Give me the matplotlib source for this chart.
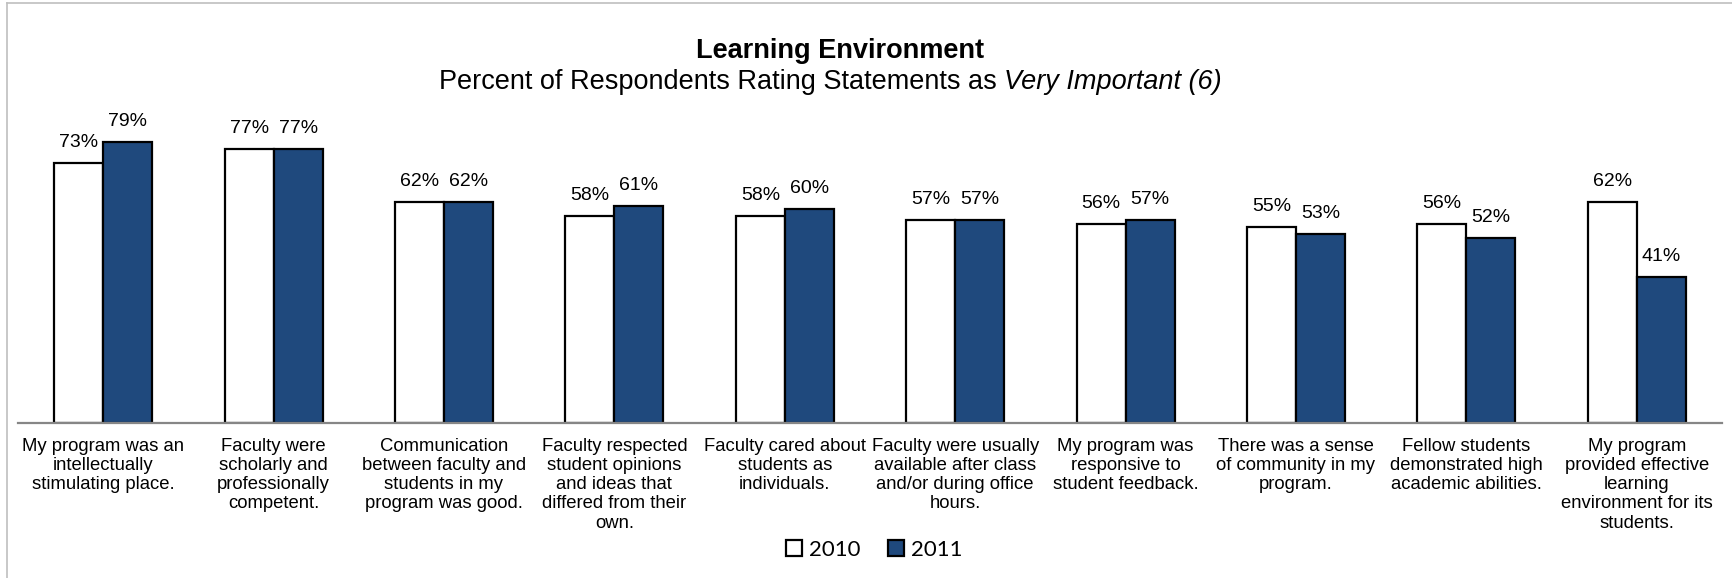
import matplotlib
matplotlib.use("Agg")
import matplotlib.pyplot as plt
from matplotlib.patches import Patch
from matplotlib.lines import Line2D
import numpy as np

# ---- data ----
categories = [
    "My program was an\nintellectually\nstimulating place.",
    "Faculty were\nscholarly and\nprofessionally\ncompetent.",
    "Communication\nbetween faculty and\nstudents in my\nprogram was good.",
    "Faculty respected\nstudent opinions\nand ideas that\ndiffered from their\nown.",
    "Faculty cared about\nstudents as\nindividuals.",
    "Faculty were usually\navailable after class\nand/or during office\nhours.",
    "My program was\nresponsive to\nstudent feedback.",
    "There was a sense\nof community in my\nprogram.",
    "Fellow students\ndemonstrated high\nacademic abilities.",
    "My program\nprovided effective\nlearning\nenvironment for its\nstudents.",
]
pct_2010 = [73, 77, 62, 58, 58, 57, 56, 55, 56, 62]
pct_2011 = [79, 77, 62, 61, 60, 57, 57, 53, 52, 41]
series_names = ["2010", "2011"]

title = "Learning Environment"
subtitle_plain = "Percent of Respondents Rating Statements as "
subtitle_italic = "Very Important (6)"

# ---- styling ----
W, H, DPI = 1732, 578, 100
BLUE = "#1F497D"
AXIS_GRAY = "#868686"
FONT = "Liberation Sans"
TITLE_SIZE = 19.5
TITLE_X = 840
SUBTITLE_X = 830

fig = plt.figure(figsize=(W / DPI, H / DPI), dpi=DPI)
fig.patch.set_facecolor("white")

ax = fig.add_axes([18 / W, 1 - 422.7 / H, 1704 / W, (422.7 - 67) / H])

x = np.arange(len(categories))
bw = 0.2875
b1 = ax.bar(x - bw / 2, pct_2010, bw, color="white", edgecolor="black",
            linewidth=1.6, zorder=2)
b2 = ax.bar(x + bw / 2, pct_2011, bw, color=BLUE, edgecolor="black",
            linewidth=1.6, zorder=2)

ax.set_xlim(-0.5, len(categories) - 0.5)
ax.set_ylim(0, 100)
ax.set_yticks([])
ax.set_xticks([])
for s in ["left", "right", "top"]:
    ax.spines[s].set_visible(False)
ax.spines["bottom"].set_color(AXIS_GRAY)
ax.spines["bottom"].set_linewidth(1.6)
ax.spines["bottom"].set_zorder(3)

# value labels above each bar
for bars, vals in ((b1, pct_2010), (b2, pct_2011)):
    for rect, v in zip(bars, vals):
        ax.annotate(f"{v}%", xy=(rect.get_x() + rect.get_width() / 2, v),
                    xytext=(0, 11.5), textcoords="offset points",
                    ha="center", va="baseline", fontsize=14, family=FONT)

# category labels under the axis
for i, lab in enumerate(categories):
    ax.annotate(lab, xy=(i, 0), xytext=(0, -10.9), textcoords="offset points",
                ha="center", va="top", fontsize=13.3, family=FONT,
                linespacing=1.17, annotation_clip=False)

# title block
fig.text(TITLE_X / W, 1 - 58 / H, title, ha="center", va="baseline",
         fontsize=TITLE_SIZE, fontweight="bold", family=FONT)

sub_y = 1 - 89 / H
t_plain = fig.text(0, sub_y, subtitle_plain, ha="left", va="baseline",
                   fontsize=TITLE_SIZE, family=FONT)
t_ital = fig.text(0, sub_y, subtitle_italic, ha="left", va="baseline",
                  fontsize=TITLE_SIZE, family=FONT, style="italic")
fig.canvas.draw()
r = fig.canvas.get_renderer()
w_plain = t_plain.get_window_extent(r).width
w_ital = t_ital.get_window_extent(r).width
start = SUBTITLE_X - (w_plain + w_ital) / 2
t_plain.set_x(start / W)
t_ital.set_x((start + w_plain) / W)

# legend
handles = [Patch(facecolor="white", edgecolor="black", linewidth=1.6),
           Patch(facecolor=BLUE, edgecolor="black", linewidth=1.6)]
fig.legend(handles, series_names, loc="center",
           bbox_to_anchor=(874.5 / W, 1 - 550 / H), ncol=2, frameon=False,
           prop={"family": "Lato", "size": 16}, handlelength=0.72,
           handleheight=0.72, handletextpad=0.3, columnspacing=1.25,
           borderpad=0, borderaxespad=0)

# chart-area border (left and top edges)
fig.add_artist(Line2D([7 / W, 7 / W], [0, 1 - 3 / H], transform=fig.transFigure,
                      color="#BFBFBF", linewidth=1.2))
fig.add_artist(Line2D([7 / W, 1], [1 - 3 / H, 1 - 3 / H], transform=fig.transFigure,
                      color="#BFBFBF", linewidth=1.2))

fig.savefig("out.png", dpi=DPI, facecolor="white")
